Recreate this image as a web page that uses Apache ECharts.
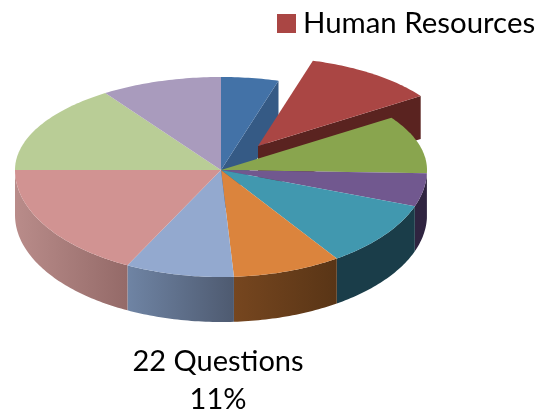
<!DOCTYPE html>
<html>
<head>
<meta charset="utf-8">
<title>Questions by topic</title>
<script src="https://cdn.jsdelivr.net/npm/echarts@6/dist/echarts.min.js"></script>
<style>
  html, body { margin: 0; padding: 0; background: #fff; }
  #chart { width: 539px; height: 413px; }
</style>
</head>
<body>
<div id="chart"></div>
<script>
// only the exploded slice is named in the picture, the others stay generic
const sliceNames = ['Topic A', 'Human Resources', 'Topic B', 'Topic C', 'Topic D', 'Topic E', 'Topic F', 'Topic G', 'Topic H', 'Topic I']
const questions = [9, 22, 20, 10, 20, 17, 17, 35, 31, 19]

const topColors = ['#4372a7', '#aa4644', '#89a54e', '#71588f', '#4198af', '#db843d', '#93a9cf', '#d19392', '#b9cd96', '#a99bbd']
// wall shade, left end then right end
const wallColors = [
  ['#355a85', '#355a85'],
  ['#5a2320', '#5a2320'],
  ['#3d4a24', '#3d4a24'],
  ['#2f2440', '#2f2440'],
  ['#1a3d49', '#1a3d49'],
  ['#76461f', '#593516'],
  ['#6f84a4', '#4e5a70'],
  ['#b98c8a', '#946a68'],
  ['#5a6a40', '#5a6a40'],
  ['#5a5068', '#5a5068']
]

const FONT = 'Lato, "Open Sans", sans-serif'
const cx = 221
const cy = 170
const rx = 206
const ryBack = 93   // perspective: back half is flatter than the front
const ryFront = 107
const depth = 45
const explodedIndex = 1
const explodeDx = 37
const explodeDy = -24
const explodeScale = 0.955

const total = questions.reduce((a, b) => a + b, 0)
const startAngles = []
questions.reduce((sum, v, i) => {
  startAngles[i] = sum / total * 360
  return sum + v
}, 0)

// angle in degrees clockwise from 12 o'clock
function rim(angle) {
  const rad = angle * Math.PI / 180
  const c = Math.cos(rad)
  return [cx + rx * Math.sin(rad), cy - (c > 0 ? ryBack : ryFront) * c]
}

function arcPoints(from, to) {
  const pts = []
  const steps = Math.max(1, Math.ceil(to - from))
  for (let k = 0; k <= steps; k++) {
    pts.push(rim(from + (to - from) * k / steps))
  }
  return pts
}

function placeExploded(p) {
  return [
    cx + explodeDx + (p[0] - cx) * explodeScale,
    cy + explodeDy + (p[1] - cy) * explodeScale
  ]
}

function down(p, d) {
  return [p[0], p[1] + d]
}

function renderSlice(params, api) {
  const i = api.value(0)
  const from = startAngles[i]
  const to = from + api.value(1) / total * 360
  const exploded = i === explodedIndex
  const children = []

  // front wall, only what faces the viewer
  const wallFrom = Math.max(from, 90)
  const wallTo = Math.min(to, 270)
  if (!exploded && wallTo > wallFrom) {
    const arc = arcPoints(wallFrom, wallTo)
    children.push({
      type: 'polygon',
      z2: 1,
      shape: { points: arc.concat(arc.map(p => down(p, depth)).reverse()) },
      style: {
        fill: new echarts.graphic.LinearGradient(0, 0, 1, 0, [
          { offset: 0, color: wallColors[i][0] },
          { offset: 1, color: wallColors[i][1] }
        ])
      }
    })
  }

  // cut face left open by the exploded slice
  if (i === explodedIndex - 1) {
    const edge = rim(to)
    children.push({
      type: 'polygon',
      z2: 2,
      shape: { points: [[cx, cy], edge, down(edge, depth), [cx, cy + depth]] },
      style: { fill: wallColors[i][0] }
    })
  }

  if (exploded) {
    const apex = placeExploded([cx, cy])
    const arc = arcPoints(from, to).map(placeExploded)
    const end = arc[arc.length - 1]
    const d = depth * explodeScale
    children.push({
      type: 'polygon',
      z2: 3,
      shape: { points: [apex, end, down(end, d), down(apex, d)] },
      style: { fill: wallColors[i][0] }
    })
    children.push({
      type: 'polygon',
      z2: 4,
      shape: { points: [apex].concat(arc) },
      style: { fill: topColors[i] }
    })
    children.push({
      type: 'text',
      z2: 6,
      style: {
        x: 218,
        y: 343,
        text: api.value(1) + ' Questions\n' + Math.round(api.value(1) / total * 100) + '%',
        font: '29px ' + FONT,
        lineHeight: 38,
        align: 'center',
        verticalAlign: 'top',
        fill: '#000'
      }
    })
  } else {
    children.push({
      type: 'polygon',
      z2: 5,
      shape: { points: [[cx, cy]].concat(arcPoints(from, to)) },
      style: { fill: topColors[i] }
    })
  }
  return { type: 'group', children: children }
}

const rows = questions.map((v, i) => [i, v])

const chart = echarts.init(document.getElementById('chart'), null, { renderer: 'canvas' })
chart.setOption({
  animation: false,
  backgroundColor: '#fff',
  legend: {
    data: [{ name: sliceNames[explodedIndex], icon: 'rect', itemStyle: { color: topColors[explodedIndex] } }],
    left: 277,
    top: 9,
    padding: 0,
    itemWidth: 19,
    itemHeight: 19,
    itemGap: 0,
    selectedMode: false,
    textStyle: { fontFamily: FONT, fontSize: 29.4, color: '#000', padding: [0, 0, 0, 2] }
  },
  series: [
    {
      type: 'custom',
      name: sliceNames[explodedIndex],
      coordinateSystem: 'none',
      itemStyle: { color: topColors[explodedIndex] },
      renderItem: renderSlice,
      data: rows.filter(r => r[0] === explodedIndex)
    },
    {
      type: 'custom',
      name: 'Other topics',
      coordinateSystem: 'none',
      renderItem: renderSlice,
      data: rows.filter(r => r[0] !== explodedIndex)
    }
  ]
})
</script>
</body>
</html>
